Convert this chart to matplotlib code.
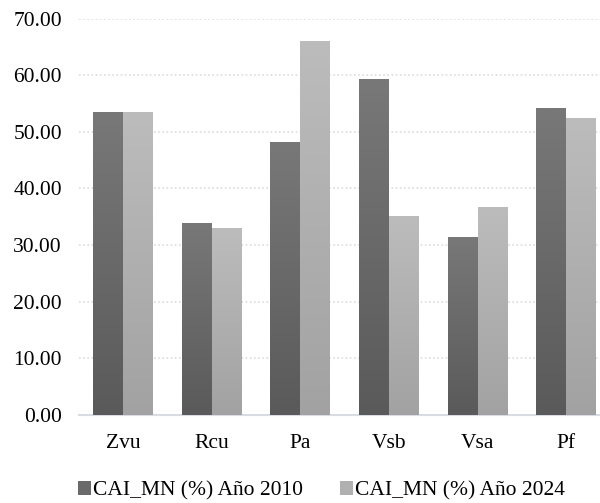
import numpy as np
import matplotlib
matplotlib.use("Agg")
import matplotlib.pyplot as plt
from matplotlib.colors import LinearSegmentedColormap
from matplotlib.patches import Patch

categories = ["Zvu", "Rcu", "Pa", "Vsb", "Vsa", "Pf"]
cai_2010 = [53.5, 33.9, 48.1, 59.2, 31.3, 54.2]
cai_2024 = [53.5, 33.0, 65.9, 35.0, 36.6, 52.3]
series_names = ["CAI_MN (%) Año 2010", "CAI_MN (%) Año 2024"]
yticks = [0, 10, 20, 30, 40, 50, 60, 70]

plt.rcParams['font.family'] = ['Liberation Serif', 'DejaVu Serif']

fig = plt.figure(figsize=(6, 5.03), dpi=100)
ax = fig.add_axes([0.131, 0.175, 0.887, 0.788])

x = np.arange(len(categories))
w = 0.338
bars1 = ax.bar(x - w/2, cai_2010, w, color="#6a6a6a", zorder=2)
bars2 = ax.bar(x + w/2, cai_2024, w, color="#b0b0b0", zorder=2)

# vertical gradient fill on every bar
dark = LinearSegmentedColormap.from_list("dk", ["#5a5a5a", "#787878"])
light = LinearSegmentedColormap.from_list("lt", ["#a2a2a2", "#bcbcbc"])
grad = np.linspace(0, 1, 256).reshape(-1, 1)
for bars, cm in [(bars1, dark), (bars2, light)]:
    for b in bars:
        bx, bw, bh = b.get_x(), b.get_width(), b.get_height()
        ax.imshow(grad, cmap=cm, origin="lower", aspect="auto",
                  extent=[bx, bx + bw, 0, bh], zorder=3)

ax.set_xlim(-0.5, len(categories) - 0.5)
ax.set_ylim(0, 70)
ax.set_yticks(yticks)
ax.set_yticklabels(["%.2f" % v for v in yticks])
ax.set_xticks(x)
ax.set_xticklabels(categories)
ax.tick_params(axis="both", length=0, labelsize=15.5, colors="#000000")
ax.tick_params(axis="y", pad=12)
ax.tick_params(axis="x", pad=14)
ax.yaxis.grid(True, linestyle=(0, (1, 1.5)), color="#dcdcdc", linewidth=1.2, zorder=0)
ax.set_axisbelow(True)
for s in ["top", "right", "left"]:
    ax.spines[s].set_visible(False)
ax.spines["bottom"].set_color("#d9dde3")
ax.spines["bottom"].set_linewidth(1.5)

handles = [Patch(facecolor="#6a6a6a"), Patch(facecolor="#b0b0b0")]
fig.legend(handles, series_names, loc="center", bbox_to_anchor=(0.536, 1 - 491/503),
           ncol=2, frameon=False, fontsize=15.5, handlelength=0.6, handleheight=0.6,
           handletextpad=0.1, columnspacing=1.7)

fig.savefig("out.png", dpi=100)
